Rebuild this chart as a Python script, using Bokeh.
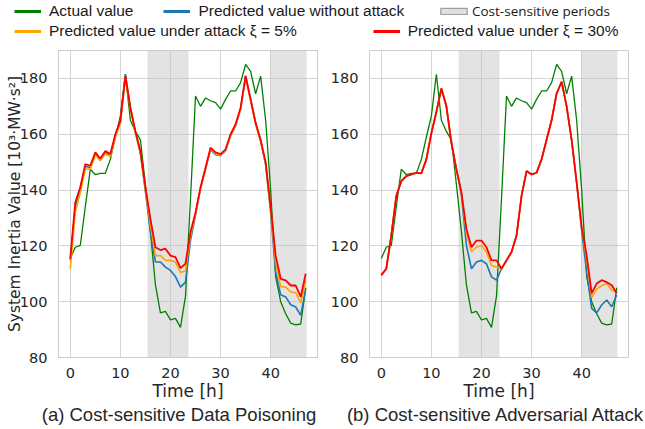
from bokeh.plotting import figure
from bokeh.models import Legend, LegendItem, Range1d, Label, FixedTicker
from bokeh.layouts import column, row
from bokeh.embed import file_html
from bokeh.resources import INLINE

hours = list(range(48))

actual = [115.5, 119.5, 120.2, 134.0, 147.5, 145.5, 146.0, 146.0, 151.0, 159.0,
          166.5, 181.5, 165.0, 161.0, 158.0, 142.0, 125.0, 106.0, 96.0, 96.5,
          93.5, 94.0, 90.8, 102.0, 137.0, 173.7, 170.0, 173.0, 172.0, 171.3,
          169.0, 172.5, 175.5, 175.5, 178.5, 185.0, 182.5, 174.5, 180.8, 165.0,
          140.0, 109.0, 100.0, 95.7, 92.3, 91.7, 92.0, 105.0]

# (a) Cost-sensitive data poisoning
pred_a_clean = [114.8, 134.0, 140.5, 148.5, 148.0, 153.0, 150.8, 153.5, 152.3, 159.5,
                164.5, 181.5, 169.5, 160.8, 153.0, 139.5, 125.0, 114.2, 114.2, 112.4,
                111.2, 109.0, 105.2, 107.0, 122.0, 131.0, 140.5, 147.5, 154.5, 152.7,
                152.3, 154.0, 159.5, 163.0, 169.0, 181.0, 172.5, 164.0, 157.5, 149.0,
                132.0, 110.6, 102.5, 101.7, 98.9, 98.1, 95.1, 104.6]
pred_a_5 = [111.8, 132.0, 139.0, 147.5, 147.5, 152.5, 150.5, 153.0, 152.0, 159.0,
            164.0, 180.2, 169.0, 160.5, 153.5, 140.0, 127.5, 116.5, 116.5, 114.8,
            114.8, 114.2, 110.5, 111.0, 123.7, 131.5, 140.5, 147.5, 154.8, 153.0,
            152.5, 154.2, 159.6, 163.2, 169.0, 180.2, 172.0, 163.5, 157.5, 149.5,
            133.0, 114.2, 105.4, 105.2, 103.5, 103.2, 99.6, 107.6]
pred_a_30 = [115.4, 135.6, 141.0, 149.3, 148.7, 153.5, 151.3, 154.0, 152.9, 160.0,
             164.8, 180.8, 169.5, 161.0, 154.0, 141.0, 129.6, 119.5, 118.5, 119.0,
             116.5, 116.0, 112.0, 113.6, 125.0, 132.0, 141.0, 148.0, 155.2, 153.5,
             152.9, 154.6, 160.0, 163.6, 169.5, 180.8, 172.5, 164.0, 158.0, 150.0,
             134.0, 116.5, 108.2, 107.6, 105.8, 105.8, 101.7, 110.0]

# (b) Cost-sensitive adversarial attack
pred_b_30 = [109.5, 111.8, 123.7, 137.9, 143.2, 145.0, 145.6, 146.2, 146.0, 151.0,
             160.4, 168.0, 176.4, 170.0, 156.9, 147.4, 139.1, 126.0, 119.5, 121.9,
             121.9, 119.5, 114.8, 114.8, 111.8, 114.8, 117.8, 123.7, 137.9, 146.8,
             145.6, 146.2, 151.0, 158.0, 165.0, 174.6, 178.8, 170.0, 158.0, 142.7,
             126.7, 116.6, 103.0, 106.5, 107.7, 107.0, 105.9, 103.0]
pred_b_5 = [109.5, 111.8, 123.7, 137.9, 143.2, 145.0, 145.6, 146.2, 146.0, 151.0,
            160.4, 168.0, 176.4, 170.0, 156.9, 147.4, 139.1, 124.5, 117.9, 119.5,
            120.1, 117.8, 113.0, 112.4, 111.8, 114.8, 117.8, 123.7, 137.9, 146.8,
            145.6, 146.2, 151.0, 158.0, 165.0, 174.6, 178.8, 170.0, 158.0, 142.7,
            126.5, 115.0, 101.5, 104.5, 105.8, 106.5, 104.1, 103.5]
pred_b_clean = [109.5, 111.8, 123.7, 137.9, 143.2, 145.0, 145.6, 146.2, 146.0, 151.0,
                160.4, 168.0, 176.4, 170.0, 156.9, 147.4, 138.5, 120.1, 111.8, 114.2,
                114.8, 113.6, 108.9, 107.7, 111.8, 114.8, 117.8, 123.7, 137.9, 146.8,
                145.6, 146.2, 151.0, 158.0, 165.0, 174.6, 178.8, 170.0, 158.0, 142.7,
                125.5, 110.7, 97.6, 96.0, 98.8, 100.6, 98.2, 102.4]

period_start = [15.4, 40.0]
period_end = [23.6, 47.1]

x_ticks = [0, 10, 20, 30, 40]
y_ticks = [80, 100, 120, 140, 160, 180]

C_ACT = "#008000"
C_CLEAN = "#1f77b4"
C_5 = "#ffa500"
C_30 = "#ff0000"
TXT = "#262626"
NAN = float("nan")


def panel(clean, p5, p30, width, left, right, ylabel=None):
    p = figure(width=width, height=357, x_range=Range1d(-2.35, 49.35), y_range=Range1d(80, 190),
               output_backend="svg", toolbar_location=None,
               min_border_left=left, min_border_right=right, min_border_top=4, min_border_bottom=44)
    p.vstrip(x0=period_start, x1=period_end, fill_color="#c2c2c2", fill_alpha=0.45, line_color=None)
    p.line(hours, actual, color=C_ACT, line_width=1.3)
    p.line(hours, clean, color=C_CLEAN, line_width=1.6)
    p.line(hours, p5, color=C_5, line_width=1.6)
    p.line(hours, p30, color=C_30, line_width=1.8)
    p.outline_line_color = "#cccccc"
    p.outline_line_width = 1
    p.grid.grid_line_color = "#d4d4d4"
    p.grid.grid_line_width = 1
    p.xaxis.ticker = FixedTicker(ticks=x_ticks)
    p.yaxis.ticker = FixedTicker(ticks=y_ticks)
    for ax in (p.xaxis[0], p.yaxis[0]):
        ax.axis_line_color = None
        ax.major_tick_line_color = None
        ax.minor_tick_line_color = None
        ax.major_label_text_font = "DejaVu Sans"
        ax.major_label_text_font_size = "14.5px"
        ax.major_label_text_color = TXT
        ax.axis_label_text_font = "DejaVu Sans"
        ax.axis_label_text_font_style = "normal"
        ax.axis_label_text_color = TXT
    p.xaxis.major_label_standoff = 4
    p.yaxis.major_label_standoff = 5
    p.xaxis.axis_label = "Time [h]"
    p.xaxis.axis_label_text_font_size = "17px"
    p.xaxis.axis_label_standoff = 0
    if ylabel:
        p.yaxis.axis_label = ylabel
        p.yaxis.axis_label_text_font_size = "15.5px"
        p.yaxis.axis_label_standoff = -7
    return p


pa = panel(pred_a_clean, pred_a_5, pred_a_30, 320, 58, 3,
           "System Inertia Value [10\u00b3\u00b7MW\u00b7s\u00b2]")
pb = panel(pred_b_clean, pred_b_5, pred_b_30, 325, 49, 17)

# legend strip
lg = figure(width=645, height=46, output_backend="svg", toolbar_location=None,
            x_range=Range1d(0, 1), y_range=Range1d(0, 1),
            x_axis_location=None, y_axis_location=None, min_border=0)
lg.grid.visible = False
lg.outline_line_color = None
r_act = lg.line(x=[NAN], y=[NAN], color=C_ACT, line_width=3)
r_clean = lg.line(x=[NAN], y=[NAN], color=C_CLEAN, line_width=3)
r_5 = lg.line(x=[NAN], y=[NAN], color=C_5, line_width=3)
r_30 = lg.line(x=[NAN], y=[NAN], color=C_30, line_width=3)
r_box = lg.quad(left=[NAN], right=[NAN], top=[NAN], bottom=[NAN],
                fill_color="#e0e0e0", line_color="#8c8c8c", line_width=1)


def mk_legend(items, loc, spacing, font, size, gw=27, gh=16, standoff=8):
    return Legend(items=items, orientation="horizontal", location=loc, spacing=spacing,
                  label_standoff=standoff, glyph_width=gw, glyph_height=gh, label_height=16,
                  padding=0, margin=0, border_line_color=None, background_fill_alpha=0,
                  label_text_font=font, label_text_font_size=size, label_text_color="#1a1a1a")


L1 = mk_legend([LegendItem(label="Actual value", renderers=[r_act]),
                LegendItem(label="Predicted value without attack", renderers=[r_clean])],
               (14, 26), 30, "Liberation Sans", "15.5px")
L2 = mk_legend([LegendItem(label="Cost-sensitive periods", renderers=[r_box])],
               (437, 26), 0, "Open Sans", "13.5px", gw=33, gh=8, standoff=2)
L3 = mk_legend([LegendItem(label="Predicted value under attack \u03be = 5%", renderers=[r_5]),
                LegendItem(label="Predicted value under \u03be = 30%", renderers=[r_30])],
               (14, 6), 76, "Liberation Sans", "15.5px")
for L in (L1, L2, L3):
    lg.add_layout(L, "center")

# caption strip
captions = ["(a) Cost-sensitive Data Poisoning", "(b) Cost-sensitive Adversarial Attack"]
caption_centers = [178.5, 495.5]
cap = figure(width=645, height=26, output_backend="svg", toolbar_location=None,
             x_range=Range1d(0, 1), y_range=Range1d(0, 1),
             x_axis_location=None, y_axis_location=None, min_border=0)
cap.grid.visible = False
cap.outline_line_color = None
for txt, cx in zip(captions, caption_centers):
    cap.add_layout(Label(x=cx, y=15, x_units="screen", y_units="screen", text=txt,
                         text_align="center", text_baseline="middle",
                         text_font="Liberation Sans", text_font_size="18.5px", text_color=TXT))

layout = column(lg, row(pa, pb, spacing=0), cap, spacing=0)
open("out.html", "w").write(file_html(layout, INLINE))
